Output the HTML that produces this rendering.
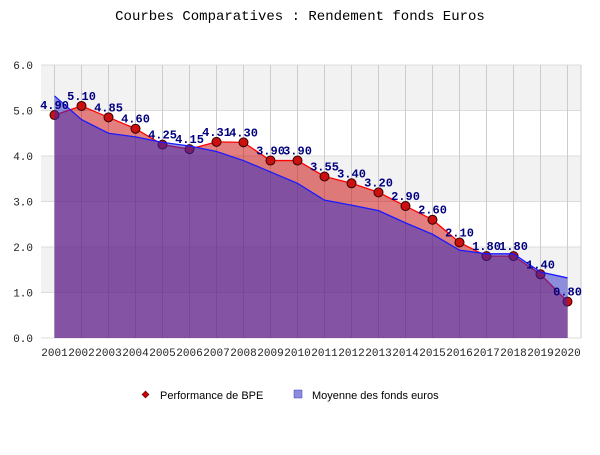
<!DOCTYPE html>
<html><head><meta charset="utf-8"><style>
body{margin:0;background:#fff;}
svg text{font-family:"Liberation Mono","DejaVu Sans Mono",monospace;}
</style></head><body>
<svg id="chart" width="600" height="450" xmlns="http://www.w3.org/2000/svg">
<text x="300" y="20" text-anchor="middle" font-size="14" fill="#000">Courbes Comparatives : Rendement fonds Euros</text>
<g id="bands"></g><g id="grid"></g><g id="areas"></g><g id="marks"></g><g id="labels"></g><g id="axes"></g>
<g>
<g>
<rect x="143" y="392" width="5" height="5" transform="rotate(45 145.5 394.5)" fill="#c00" stroke="#400" stroke-width="0.5"/>
<text x="160" y="399" font-size="11" style="font-family:'Liberation Sans',sans-serif" fill="#000">Performance de BPE</text></g>
<g>
<rect x="294" y="390" width="8" height="8" fill="#8c8cdc" stroke="#4040c0" stroke-width="0.5"/>
<text x="312" y="399" font-size="11" style="font-family:'Liberation Sans',sans-serif" fill="#000">Moyenne des fonds euros</text></g>
</g>
</svg>
<script>
const years=["2001","2002","2003","2004","2005","2006","2007","2008","2009","2010","2011","2012","2013","2014","2015","2016","2017","2018","2019","2020"];
const bpe=[4.90,5.10,4.85,4.60,4.25,4.15,4.31,4.30,3.90,3.90,3.55,3.40,3.20,2.90,2.60,2.10,1.80,1.80,1.40,0.80];
const moyenne=[5.32,4.80,4.50,4.42,4.30,4.22,4.10,3.90,3.65,3.40,3.03,2.92,2.80,2.53,2.28,1.93,1.85,1.85,1.45,1.32];
const yTicks=[0,1,2,3,4,5,6];
const NS="http://www.w3.org/2000/svg";
const L=41,R=581,T=65,B=338,yMax=6;
const bw=(R-L)/years.length;
const xs=i=>L+bw*(i+0.5);
const ys=v=>B-(v/yMax)*(B-T);
function mk(t,a,p){const e=document.createElementNS(NS,t);for(const k in a)e.setAttribute(k,a[k]);p.appendChild(e);return e;}
const bands=document.getElementById('bands'),grid=document.getElementById('grid'),areas=document.getElementById('areas'),marks=document.getElementById('marks'),labels=document.getElementById('labels'),axes=document.getElementById('axes');
for(let k=0;k<yTicks.length-1;k++){
 const r=mk('rect',{x:L,y:ys(yTicks[k+1]),width:R-L,height:ys(yTicks[k])-ys(yTicks[k+1]),fill:(k%2==1)?'#f2f2f2':'#ffffff'},bands);
 
 
}
yTicks.forEach(v=>{
 const l=mk('line',{x1:L,x2:R,y1:ys(v),y2:ys(v),stroke:'#dcdcdc','stroke-width':1},grid);
 
 
 const t=mk('text',{x:L-8,y:ys(v)+4,'text-anchor':'end','font-size':11,fill:'#222'},axes);
 t.textContent=v.toFixed(1);
 
 
});
years.forEach((y,i)=>{
 const l=mk('line',{x1:xs(i),x2:xs(i),y1:T,y2:B,stroke:'#cccccc','stroke-width':1},grid);
 
 
 const t=mk('text',{x:xs(i),y:B+18,'text-anchor':'middle','font-size':11,fill:'#222'},axes);
 t.textContent=y;
 
 
});
const rb=mk('line',{x1:R,x2:R,y1:T,y2:B,stroke:'#ccc'},grid);


function area(vals,fill,stroke,name){
 let pts=vals.map((v,i)=>xs(i)+','+ys(v)).join(' ');
 const a=mk('polygon',{points:xs(0)+','+B+' '+pts+' '+xs(vals.length-1)+','+B,fill:fill},areas);
 
 
 const l=mk('polyline',{points:pts,fill:'none',stroke:stroke,'stroke-width':1.3},areas);
 
 
}
area(bpe,'rgba(200,0,0,0.5)','#ff0000','bpe');
bpe.forEach((v,i)=>{
 const c=mk('circle',{cx:xs(i),cy:ys(v),r:4.5,fill:'#cc1010',stroke:'#300','stroke-width':1},areas);
 
 
});
area(moyenne,'rgba(40,40,200,0.5)','#1a1aff','moyenne');
bpe.forEach((v,i)=>{
 const t=mk('text',{x:xs(i),y:ys(v)-6,'text-anchor':'middle','font-size':12,'font-weight':'bold',fill:'#000080'},labels);
 t.textContent=v.toFixed(2);
 
 
});
</script>
</body></html>
